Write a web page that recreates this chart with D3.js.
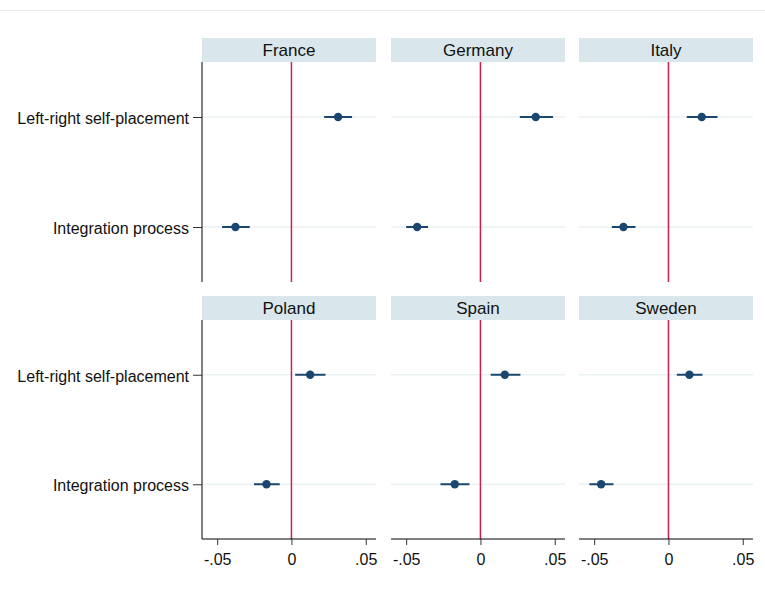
<!DOCTYPE html>
<html><head><meta charset="utf-8">
<script src="https://cdn.jsdelivr.net/npm/d3@7"></script>
<style>body{margin:0;background:#fff}svg{display:block}text{font-family:"Liberation Sans",Arial,sans-serif}</style>
</head><body><svg id="c" width="765" height="591"></svg>
<script>
const countries = ["France","Germany","Italy","Poland","Spain","Sweden"];
const variables = ["Left-right self-placement","Integration process"];
const lrEst = [0.0314, 0.0372, 0.0224, 0.0126, 0.0164, 0.0141];
const lrLo  = [0.0220, 0.0265, 0.0123, 0.0025, 0.0069, 0.0056];
const lrHi  = [0.0408, 0.0489, 0.0330, 0.0229, 0.0269, 0.0229];
const ipEst = [-0.0377, -0.0426, -0.0303, -0.0168, -0.0173, -0.0453];
const ipLo  = [-0.0467, -0.0500, -0.0381, -0.0252, -0.0269, -0.0532];
const ipHi  = [-0.0281, -0.0353, -0.0222, -0.0079, -0.0074, -0.0370];
const xTicks = [-0.05, 0, 0.05];
const xTickLabels = ["-.05","0",".05"];

const svg = d3.select("#c");
svg.append("line").attr("x1",0).attr("x2",765).attr("y1",10.5).attr("y2",10.5).attr("stroke","#ececec");

const colX = [202, 391, 579], panelW = 174;
const rows = [{stripTop:38, top:62, bottom:282},{stripTop:296, top:320, bottom:539}];
const fmt = d => xTickLabels[xTicks.indexOf(d)];

countries.forEach((c,i)=>{
  const col = i%3, row = Math.floor(i/3);
  const x0 = colX[col], R = rows[row];
  const x = d3.scaleLinear().domain([-0.0602, 0.0569]).range([x0, x0+panelW]);
  const y = d3.scalePoint().domain(variables).range([R.top, R.bottom]).padding(0.5);
  const g = svg.append("g");
  // strip
  g.append("rect").attr("x",x0).attr("y",R.stripTop).attr("width",panelW).attr("height",R.top-R.stripTop).attr("fill","#d9e6eb");
  g.append("text").attr("x",x0+panelW/2).attr("y",(R.stripTop+R.top)/2+6).attr("text-anchor","middle").attr("font-size",17).attr("fill","#111").text(c);
  // gridlines
  variables.forEach(v=>{
    g.append("line").attr("x1",x0).attr("x2",x0+panelW).attr("y1",y(v)).attr("y2",y(v)).attr("stroke","#eaf2f3").attr("stroke-width",1.5);
  });
  // zero line
  g.append("line").attr("x1",x(0)).attr("x2",x(0)).attr("y1",R.top).attr("y2",R.bottom).attr("stroke","#d11f4a").attr("stroke-width",1.5);
  // y axis on first column
  if(col===0){
    const ya = g.append("g").attr("transform",`translate(${x0},0)`).call(d3.axisLeft(y).tickSize(9).tickPadding(4));
    ya.select(".domain").attr("stroke","#000").attr("d",`M0,${R.top}V${R.bottom}`);
    ya.selectAll("line").attr("stroke","#333");
    ya.selectAll("text").attr("font-size",16).attr("dy","0.4em").attr("fill","#111").attr("font-family","Liberation Sans, Arial, sans-serif");
  }
  // x axis bottom row
  if(row===1){
    const xa = g.append("g").attr("transform",`translate(0,${R.bottom})`).call(d3.axisBottom(x).tickValues(xTicks).tickFormat(fmt).tickSize(6).tickPadding(8.5));
    xa.select(".domain").attr("stroke","#000").attr("d",`M${x0},0H${x0+panelW}`);
    xa.selectAll("line").attr("stroke","#333");
    xa.selectAll("text").attr("font-size",16).attr("fill","#111").attr("font-family","Liberation Sans, Arial, sans-serif");
  }
  const est=[lrEst[i], ipEst[i]], lo=[lrLo[i], ipLo[i]], hi=[lrHi[i], ipHi[i]];
  variables.forEach((v,k)=>{
    g.append("line").attr("x1",x(lo[k])).attr("x2",x(hi[k])).attr("y1",y(v)).attr("y2",y(v)).attr("stroke","#1a476f").attr("stroke-width",2);
    g.append("circle").attr("cx",x(est[k])).attr("cy",y(v)).attr("r",4.2).attr("fill","#1a476f");
  });
});
</script></body></html>
